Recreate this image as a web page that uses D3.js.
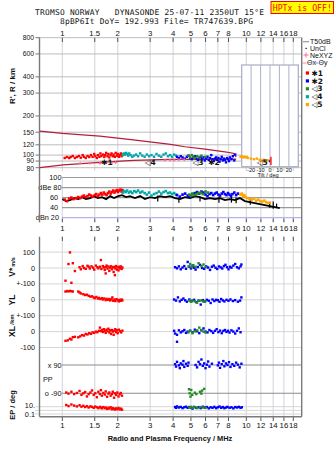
<!DOCTYPE html>
<html><head><meta charset="utf-8">
<script src="https://cdn.jsdelivr.net/npm/d3@7"></script>
<style>
body{margin:0;background:#fff}
svg{display:block}
text{font-family:"Liberation Sans",Arial,sans-serif;fill:#111}
</style>
</head><body>
<svg id="c" width="335" height="451"></svg>
<script>
// ---- frequency axis ----
const freqTicks = [1,1.5,2,3,4,5,6,7,8,10,12,14,16,18];
const freqTicksMid = [1,1.5,2,3,4,5,6,7,8,9,10,12,14,16,18];
// ---- virtual height axis (km) ----
const heightTicks = [80,90,100,120,150,200,300,400,600,800];
// ---- amplitude axis (dB) ----
const ampTicks = [100,80,60,40,20];
const ampLabels = ["100","dBe 80","60","40","dBn 20"];
const tiltTicks = [-20,-10,0,10,20];

// model profile curves (f MHz, km)
const upperCurve = [[0.756,153],[1.0,147],[1.6,140],[2.43,131],[3.87,121],[4.64,116],[5.96,111],[7.65,106],[8.5,103.3],[8.8,97]];
const lowerCurve = [[0.752,80],[1.013,84],[1.6,88],[2.43,91],[3.87,92.6],[8.8,93]];

// echo group 1 (red)
const redH = [[1.03,95],[1.06,96.7],[1.09,95],[1.11,96.7],[1.14,98.4],[1.17,95],[1.20,96.7],[1.23,98.4],[1.26,95.5],[1.29,100],[1.31,97],[1.34,95],[1.37,98.4],[1.40,96.7],[1.43,100],[1.46,97],[1.49,102],[1.51,98],[1.54,95],[1.56,100],[1.59,97],[1.61,103],[1.63,98.4],[1.66,101],[1.69,96.7],[1.71,100],[1.73,104],[1.76,98],[1.78,102],[1.80,96],[1.83,100],[1.85,103],[1.88,98],[1.90,101],[1.93,97],[1.95,104],[1.98,99],[2.00,102],[2.03,97],[2.05,100],[2.08,103],[2.10,98],[2.12,101]];
const redA = [[1.03,56],[1.06,53],[1.09,58],[1.12,60],[1.15,57],[1.19,59],[1.22,61],[1.25,59],[1.28,62],[1.31,64],[1.34,61],[1.37,63],[1.40,66],[1.43,64],[1.46,62],[1.50,65],[1.53,67],[1.56,63],[1.59,66],[1.62,69],[1.65,66],[1.68,70],[1.71,67],[1.74,65],[1.77,69],[1.80,72],[1.83,68],[1.86,71],[1.89,74],[1.92,70],[1.95,73],[1.98,75],[2.01,71],[2.04,74],[2.07,76],[2.10,72],[2.12,75]];
const redV = [[1.10,98],[1.08,25],[1.14,30],[1.17,-19],[1.04,-80],[1.12,-93],[1.24,5],[1.26,-8],[1.29,12],[1.31,0],[1.34,-5],[1.37,14],[1.39,8],[1.41,-3],[1.44,10],[1.47,2],[1.49,-10],[1.52,15],[1.55,5],[1.57,-2],[1.60,8],[1.62,50],[1.63,-6],[1.66,12],[1.68,3],[1.70,-12],[1.72,6],[1.74,15],[1.76,-4],[1.78,9],[1.80,-18],[1.82,2],[1.84,11],[1.86,-8],[1.88,5],[1.90,-25],[1.92,7],[1.94,-3],[1.96,12],[1.98,-10],[2.00,4],[2.02,-15],[2.04,8],[2.06,-2],[2.08,10],[2.10,-6],[2.12,3],[1.72,-34],[1.93,-45]];
const redYL = [[1.04,52],[1.06,55],[1.08,53],[1.10,56],[1.12,54],[1.14,52],[1.22,52],[1.24,46],[1.26,40],[1.30,35],[1.33,30],[1.36,32],[1.39,25],[1.42,20],[1.45,22],[1.48,15],[1.50,10],[1.53,18],[1.56,8],[1.58,12],[1.61,5],[1.64,10],[1.66,2],[1.69,8],[1.72,-2],[1.74,6],[1.77,0],[1.80,5],[1.82,-4],[1.85,3],[1.87,15],[1.89,-6],[1.92,2],[1.94,-8],[1.97,4],[2.00,-3],[2.03,-10],[2.05,0],[2.08,-6],[2.10,2],[2.12,-4]];
const redXL = [[1.04,-58],[1.07,-55],[1.10,-45],[1.12,-50],[1.14,-35],[1.17,-33],[1.22,-36],[1.25,-30],[1.28,-22],[1.31,-25],[1.34,-15],[1.37,-18],[1.40,-10],[1.43,-14],[1.46,-5],[1.49,-8],[1.52,0],[1.55,-4],[1.58,5],[1.60,25],[1.62,3],[1.64,10],[1.66,-2],[1.68,15],[1.70,5],[1.72,-8],[1.74,12],[1.76,2],[1.78,18],[1.80,-5],[1.82,8],[1.84,-15],[1.86,10],[1.88,0],[1.90,-20],[1.92,6],[1.94,15],[1.96,-3],[1.98,8],[2.00,-10],[2.03,12],[2.06,2],[2.09,-5],[2.12,6]];
const redPP = [[1.05,-85],[1.08,-92],[1.12,-80],[1.16,-95],[1.20,-88],[1.24,-75],[1.27,-100],[1.30,-90],[1.33,-82],[1.36,-110],[1.39,-95],[1.42,-85],[1.45,-72],[1.48,-100],[1.51,-90],[1.54,-115],[1.57,-80],[1.60,-95],[1.62,-70],[1.64,-105],[1.67,-88],[1.70,-98],[1.72,-78],[1.75,-112],[1.78,-92],[1.80,-85],[1.83,-105],[1.86,-95],[1.88,-80],[1.91,-118],[1.93,-90],[1.96,-100],[1.99,-85],[2.02,-110],[2.05,-95],[2.08,-88],[2.11,-105]];
const redEP = [[1.05,30],[1.08,15],[1.12,40],[1.16,20],[1.20,12],[1.24,25],[1.27,10],[1.30,18],[1.33,8],[1.36,14],[1.39,6],[1.42,12],[1.45,9],[1.48,5],[1.51,11],[1.54,7],[1.57,4],[1.60,9],[1.62,6],[1.64,3.5],[1.67,8],[1.70,4],[1.72,6],[1.75,2.5],[1.78,5],[1.80,3],[1.83,7],[1.86,2],[1.88,4],[1.91,2.8],[1.93,1.6],[1.96,3.5],[1.99,2],[2.02,4.5],[2.05,1.8],[2.08,3],[2.11,1.5]];

// echo group 2 (blue)
const blueH = [[4.20,97],[4.30,95],[4.40,98],[4.50,96],[4.62,94],[4.75,97],[4.85,99],[4.95,95],[5.05,93],[5.15,96],[5.25,98],[5.35,94],[5.45,92],[5.55,95],[5.65,97],[5.75,93],[5.85,96],[5.95,91],[6.05,94],[6.15,97],[6.25,92],[6.35,95],[6.45,100],[6.55,93],[6.65,90],[6.75,94],[6.85,96],[6.95,92],[7.05,95],[7.15,89],[7.25,93],[7.35,97],[7.45,91],[7.55,94],[7.65,92],[7.75,88],[7.85,95],[7.95,93],[8.05,90],[8.15,96],[8.30,93],[8.45,98],[8.60,91],[8.70,101]];
const blueA = [[4.2,65],[4.35,62],[4.5,66],[4.65,68],[4.8,64],[4.95,62],[5.1,67],[5.25,69],[5.4,71],[5.55,68],[5.7,72],[5.85,70],[6.0,66],[6.15,63],[6.3,67],[6.45,69],[6.6,65],[6.75,68],[6.9,70],[7.05,66],[7.2,64],[7.35,68],[7.5,71],[7.65,67],[7.8,65],[7.95,69],[8.1,66],[8.25,63],[8.4,67],[8.6,70],[8.8,65],[9.0,68]];
const blueV = [[4.1,5],[4.2,-2],[4.3,10],[4.4,-8],[4.5,3],[4.6,12],[4.7,-5],[4.8,38],[4.9,8],[5.0,-3],[5.1,15],[5.2,2],[5.3,-10],[5.45,6],[5.6,20],[5.75,0],[5.9,-5],[6.05,10],[6.2,3],[6.35,-12],[6.5,8],[6.65,15],[6.8,2],[6.95,-6],[7.1,10],[7.25,4],[7.4,-3],[7.55,12],[7.7,20],[7.85,5],[8.0,-8],[8.15,8],[8.3,2],[8.5,15],[8.7,25],[8.9,5],[9.1,-2],[9.3,10],[9.4,22]];
const blueYL = [[4.05,2],[4.15,-5],[4.25,15],[4.35,-10],[4.45,0],[4.55,8],[4.65,-3],[4.75,-12],[4.9,2],[5.05,-8],[5.2,0],[5.35,-15],[5.5,-5],[5.65,-30],[5.8,-2],[5.95,-10],[6.1,0],[6.25,-6],[6.4,-20],[6.55,2],[6.7,-8],[6.85,0],[7.0,-3],[7.15,-12],[7.3,5],[7.45,-4],[7.6,-10],[7.8,0],[8.0,-6],[8.2,2],[8.45,-8],[8.7,-2],[9.0,-12],[9.25,-5],[9.4,15]];
const blueXL = [[4.05,5],[4.1,-12],[4.2,-20],[4.3,8],[4.4,-5],[4.5,2],[4.6,10],[4.7,-8],[4.8,0],[4.95,6],[5.1,-5],[5.25,12],[5.4,2],[5.55,-10],[5.7,8],[5.85,20],[6.0,0],[6.15,-5],[6.3,10],[6.45,3],[6.6,-8],[6.75,5],[6.9,15],[7.05,-3],[7.2,6],[7.35,-10],[7.5,4],[7.65,10],[7.8,-2],[7.95,5],[8.1,-6],[8.3,8],[8.5,0],[8.7,-12],[8.9,5],[9.1,20],[9.3,-4],[4.2,-64]];
const bluePP = [[4.1,95],[4.15,80],[4.2,110],[4.3,88],[4.35,70],[4.4,100],[4.5,92],[4.55,115],[4.6,78],[4.7,98],[4.8,85],[4.85,105],[5.3,90],[5.4,75],[5.5,110],[5.6,95],[5.7,125],[5.8,85],[5.9,100],[6.0,70],[6.1,92],[6.2,112],[6.3,80],[6.5,98],[7.0,88],[7.1,105],[7.2,72],[7.35,95],[7.5,115],[7.6,82],[7.75,100],[7.9,90],[8.05,108],[8.2,78],[8.4,95],[8.6,85],[8.8,105],[9.0,92],[9.2,75],[9.4,98]];
const blueEP = [[4.1,8],[4.15,5],[4.2,12],[4.3,6],[4.4,9],[4.5,4],[4.6,7],[4.7,10],[4.8,5],[4.9,8],[5.0,6],[5.1,3],[5.2,9],[5.35,5],[5.5,7],[5.65,4],[5.8,10],[5.95,6],[6.1,8],[6.25,3.5],[6.4,7],[6.55,5],[6.7,9],[6.85,4],[7.0,7],[7.15,11],[7.3,5],[7.45,8],[7.6,4],[7.75,6],[7.9,9],[8.1,5],[8.3,7],[8.5,3.5],[8.7,8],[8.9,6],[9.1,9],[9.3,5],[9.45,7]];

// echo group 3 (green)
const greenH = [[4.85,99],[4.95,96],[5.05,100],[5.15,97],[5.25,95],[5.40,98],[5.55,96],[5.70,99],[6.0,97]];
const greenA = [[4.9,66],[5.0,64],[5.1,68],[5.2,65],[5.35,67],[5.5,69],[5.65,70],[5.8,67],[6.0,72],[6.2,70]];
const greenV = [[4.85,10],[4.95,25],[5.05,5],[5.15,18],[5.3,8],[5.5,30],[5.7,12],[5.85,22],[6.0,5]];
const greenYL = [[4.9,-5],[5.0,-12],[5.1,-3],[5.25,-10],[5.4,-18],[5.55,-6],[5.7,-4],[5.85,-12],[6.0,-8]];
const greenXL = [[4.85,-5],[4.95,5],[5.1,-10],[5.25,2],[5.4,8],[5.55,25],[5.7,10],[5.85,0],[6.0,-6]];
const greenPP = [[4.88,-64],[4.92,-90],[4.97,-111],[5.02,-69],[5.08,-100],[5.25,-86],[5.35,-95],[5.6,-80],[5.75,-73],[5.7,-92],[5.9,-62]];
const greenEP = [[4.9,6],[5.0,9],[5.1,5],[5.2,7],[5.4,4],[5.6,8],[5.8,6],[6.0,5]];

// echo group 4 (cyan)
const cyanH = [[2.13,100],[2.16,103],[2.19,101],[2.22,104],[2.25,102],[2.28,99],[2.31,103],[2.35,100],[2.40,97],[2.45,99],[2.52,101],[2.58,98],[2.65,103],[2.72,99],[2.80,97],[2.88,101],[2.96,98],[3.05,100],[3.15,97],[3.25,102],[3.35,99],[3.45,97],[3.55,101],[3.65,103],[3.75,98],[3.85,100],[3.95,97],[4.05,101],[4.15,99]];
const cyanA = [[2.13,70],[2.17,73],[2.21,71],[2.25,74],[2.30,70],[2.35,72],[2.40,69],[2.46,73],[2.52,71],[2.58,74],[2.65,70],[2.72,72],[2.80,69],[2.88,66],[2.96,70],[3.05,64],[3.15,67],[3.25,69],[3.35,72],[3.45,68],[3.55,71],[3.65,73],[3.75,69],[3.85,70],[3.95,67],[4.05,69],[4.15,66]];

// echo group 5 (orange)
const orangeH = [[9.3,97],[9.45,98],[9.6,96],[9.75,97.5],[9.9,96],[10.05,97],[10.2,95],[10.6,94],[11.0,93],[11.4,94],[11.8,92],[12.1,91],[12.4,92],[12.7,90],[13.0,91],[13.3,90.5]];
const orangeA = [[9.3,66],[9.45,68],[9.6,63],[9.75,65],[9.9,61],[10.1,59],[10.4,57],[10.7,56],[11.0,58],[11.3,54],[11.6,56],[11.9,53],[12.2,52],[12.5,54],[12.8,51],[13.1,49],[13.4,50]];

// unclassified amplitude trace
const blackA = [[1.0,57],[1.047,53],[1.10,55],[1.16,59],[1.22,57],[1.28,61],[1.345,57],[1.415,59],[1.49,63],[1.56,59],[1.64,61],[1.73,57],[1.82,63],[1.91,59],[2.01,63],[2.11,65],[2.22,61],[2.33,63],[2.48,59],[2.65,63],[2.81,57],[3.0,61],[3.19,59],[3.39,63],[3.62,61],[3.85,63],[4.10,59],[4.36,57],[4.64,61],[4.94,59],[5.26,63],[5.60,61],[5.96,57],[6.34,59],[6.75,57],[7.19,59],[7.65,55],[8.14,57],[8.66,55],[9.22,59],[9.82,53],[10.45,51],[11.12,49],[11.84,47],[12.6,45],[13.4,43],[14.3,41],[15.2,39]];
const blackSpikes = [[3.3,52,64],[4.3,50,60],[5.6,52,62],[7.1,50,62],[8.3,50,63],[8.8,49,60],[10.5,46,58],[13.4,40,50],[14.0,38,52],[14.6,40,48]];

// NeXYZ markers (f MHz, km)
const neXYZ = [[1.25,86.5],[1.41,86.5],[1.60,86.5],[1.86,87.5],[1.95,87.5],[3.62,91.5],[3.85,91.5],[4.05,91.5],[4.3,92],[4.6,92]];
// group tags
const groupTags = [{t:"\u27311",f:1.75,h:88.4},{t:"\u25C14",f:3.0,h:88.4},{t:"\u25C13",f:5.46,h:88.4},{t:"\u27312",f:6.68,h:88.4},{t:"\u25C15",f:12.2,h:88}];
// tilt of group 5 (deg, km range)
const tiltX = [{t:1,h0:84,h1:97}];
const tiltY = [{t:-0.5,h0:88,h1:92}];

const legendItems = [{c:"#ff0000",t:"\u27311"},{c:"#0000ff",t:"\u27312"},{c:"#228b22",t:"\u25C13"},{c:"#00a8a8",t:"\u25C14"},{c:"#ffa500",t:"\u25C15"}];

// ---------------------------------------------------------------
const svg = d3.select("#c");
const L = 40, R = 302;
const x = d3.scaleLog().domain([0.756, 20.07]).range([L, R]);
const yH = d3.scaleLog().domain([80, 800]).range([167.7, 37.7]);
const yA = d3.scaleLinear().domain([20, 100]).range([217.7, 177.5]);
const yV = d3.scaleLinear().domain([-100, 100]).range([283.9, 252.1]);
const yYL = d3.scaleLinear().domain([-100, 100]).range([315.7, 283.9]);
const yXL = d3.scaleLinear().domain([-100, 100]).range([347.5, 315.7]);
const yPP = d3.scaleLinear().domain([-90, 90]).range([393.3, 365]);
const yEP = d3.scaleLog().domain([0.1, 10]).range([414, 406.7]);
const xT = d3.scaleLinear().domain([-30, 30]).range([241.7, 298.3]);

// title block
svg.append("text").attr("x", 35).attr("y", 15).style("font-family", "DejaVu Sans Mono").style("font-size", "7.9px")
  .attr("xml:space", "preserve").attr("textLength", 229).text("TROMSO NORWAY   DYNASONDE 25-07-11 2350UT 15\u00B0E");
svg.append("text").attr("x", 60).attr("y", 24.2).style("font-family", "DejaVu Sans Mono").style("font-size", "7.9px")
  .attr("textLength", 193).text("8pBP6It DoY= 192.993 File= TR747639.BPG");
svg.append("rect").attr("x", 271).attr("y", 1.5).attr("width", 62.5).attr("height", 12).attr("fill", "#ffff00").attr("stroke", "#ff0000");
svg.append("text").attr("x", 302.3).attr("y", 11).attr("text-anchor", "middle").style("font-family", "DejaVu Sans Mono")
  .style("font-size", "8.2px").style("fill", "#ff0000").text("HPTx is OFF!");

const grid = svg.append("g");
function vgrid(y0, y1) {
  grid.append("g").selectAll("line").data(freqTicks).join("line")
    .attr("x1", d => x(d)).attr("x2", d => x(d)).attr("y1", y0).attr("y2", y1)
    .attr("stroke", "#dcdce6").attr("stroke-width", 1.3);
}
function hgrid(vals, ys, x0, color, w) {
  grid.append("g").selectAll("line").data(vals).join("line")
    .attr("x1", x0).attr("x2", R).attr("y1", d => ys(d)).attr("y2", d => ys(d))
    .attr("stroke", color).attr("stroke-width", w || 1);
}

// ---- top panel ----
vgrid(37.7, 171);
hgrid(heightTicks, yH, L, "#bdbdbd");
grid.append("g").selectAll("line").data(heightTicks).join("line")
  .attr("x1", 35.5).attr("x2", L).attr("y1", d => yH(d)).attr("y2", d => yH(d)).attr("stroke", "#777");
const hNudge = {100: -0.6, 80: 0.6};
svg.append("g").selectAll("text").data(heightTicks).join("text")
  .attr("x", 34).attr("y", d => yH(d) + (hNudge[d] || 0)).attr("dy", "0.35em").attr("text-anchor", "end").style("font-size", "6.8px")
  .text(d => d);
svg.append("text").attr("transform", "translate(15,86) rotate(-90)").attr("text-anchor", "middle")
  .style("font-size", "8px").style("font-weight", "bold").text("R', R / km");

// top frequency labels
svg.append("g").selectAll("text").data(freqTicks).join("text")
  .attr("x", d => x(d)).attr("y", 36).attr("text-anchor", "middle").style("font-size", "7.8px").text(d => d);
svg.append("g").selectAll("line").data(freqTicks).join("line")
  .attr("x1", d => x(d)).attr("x2", d => x(d)).attr("y1", 37.7).attr("y2", 42).attr("stroke", "#555");

// ---- amplitude panel ----
vgrid(177.5, 222);
hgrid(ampTicks.slice(0, 4), yA, 62, "#9a9a9a", 1.2);
hgrid([20], yA, 62, "#b4b4ec", 1.2);
svg.append("g").selectAll("text").data(ampTicks).join("text")
  .attr("x", (d, i) => (i === 0 || i === 1) ? 61.5 : (i === 4 ? 59 : 58)).attr("y", d => yA(d)).attr("dy", "0.35em")
  .attr("text-anchor", "end").style("font-size", "7.3px").text((d, i) => ampLabels[i]);
svg.append("g").selectAll("line").data(freqTicks).join("line")
  .attr("x1", d => x(d)).attr("x2", d => x(d)).attr("y1", 218.5).attr("y2", 222.3).attr("stroke", "#555");
svg.append("g").selectAll("text").data(freqTicksMid).join("text")
  .attr("x", d => x(d)).attr("y", 230.5).attr("text-anchor", "middle").style("font-size", "7.8px").text(d => d);

// ---- lower panel ----
vgrid(236.7, 416.7);
hgrid([100, 0, -100], yV, L, "#d6d6d6");
hgrid([0, -100], yYL, L, "#d6d6d6");
hgrid([0, -100], yXL, L, "#d6d6d6");
hgrid([90, -90], yPP, 62, "#8c8c8c", 1.1);
grid.append("g").selectAll("line").data([10, 1, 0.1]).join("line")
  .attr("x1", 35).attr("x2", R).attr("y1", d => yEP(d)).attr("y2", d => yEP(d)).attr("stroke", "#d6d6d6");
svg.append("g").selectAll("line").data(freqTicks).join("line")
  .attr("x1", d => x(d)).attr("x2", d => x(d)).attr("y1", 236.7).attr("y2", 241).attr("stroke", "#555");
svg.append("g").selectAll("line").data(freqTicks).join("line")
  .attr("x1", d => x(d)).attr("x2", d => x(d)).attr("y1", 416.7).attr("y2", 421).attr("stroke", "#555");
svg.append("g").selectAll("text").data(freqTicks).join("text")
  .attr("x", d => x(d)).attr("y", 428).attr("text-anchor", "middle").style("font-size", "7.8px").text(d => d);

const lowLabels = [
  {t:"100", y:yV(100)}, {t:"0", y:yV(0)}, {t:"+-100", y:yV(-100)},
  {t:"0", y:yYL(0)}, {t:"+-100", y:yYL(-100)},
  {t:"0", y:yXL(0)}, {t:"-100", y:yXL(-100)},
  {t:"10.", y:yEP(10)-0.8}, {t:"0.1", y:yEP(0.1)+0.6}
];
svg.append("g").selectAll("text").data(lowLabels).join("text")
  .attr("x", 35).attr("y", d => d.y).attr("dy", "0.35em").attr("text-anchor", "end").style("font-size", "7.3px").text(d => d.t);
svg.append("text").attr("x", 61.5).attr("y", yPP(90)).attr("dy", "0.35em").attr("text-anchor", "end").style("font-size", "7.3px").text("x 90");
svg.append("text").attr("x", 61.5).attr("y", yPP(-90)).attr("dy", "0.35em").attr("text-anchor", "end").style("font-size", "7.3px").text("o -90");
svg.append("text").attr("x", 43).attr("y", yPP(0)).attr("dy", "0.35em").style("font-size", "7.3px").text("PP");

const vLab = svg.append("text").attr("transform", "translate(15,267) rotate(-90)").attr("text-anchor", "middle");
vLab.append("tspan").style("font-size", "8.5px").style("font-weight", "bold").text("V*");
vLab.append("tspan").attr("dx", 1).style("font-size", "5.5px").style("font-weight", "bold").text("m/s");
svg.append("text").attr("transform", "translate(15,300) rotate(-90)").attr("text-anchor", "middle").style("font-size", "8.5px").style("font-weight", "bold").text("YL");
svg.append("text").attr("transform", "translate(14,319.5) rotate(-90)").attr("text-anchor", "middle").style("font-size", "6px").style("font-weight", "bold").text("/km");
svg.append("text").attr("transform", "translate(15,331.5) rotate(-90)").attr("text-anchor", "middle").style("font-size", "8.5px").style("font-weight", "bold").text("XL");
svg.append("text").attr("transform", "translate(15,405) rotate(-90)").attr("text-anchor", "middle").style("font-size", "7.5px").style("font-weight", "bold").text("EP / deg");
svg.append("text").attr("x", 170).attr("y", 441).attr("text-anchor", "middle").style("font-size", "7.4px").style("font-weight", "bold").text("Radio and Plasma Frequency / MHz");

// borders
const frame = svg.append("g").attr("stroke", "#7a7a7a").attr("stroke-width", 1.4);
frame.append("line").attr("x1", 39.5).attr("x2", 39.5).attr("y1", 37.7).attr("y2", 222.3);
frame.append("line").attr("x1", 39.5).attr("x2", 39.5).attr("y1", 236.7).attr("y2", 416.7);
frame.append("line").attr("x1", 301.7).attr("x2", 301.7).attr("y1", 37.7).attr("y2", 416.7);
frame.append("line").attr("x1", 39.5).attr("x2", 301.7).attr("y1", 416.7).attr("y2", 416.7);

// ---- tilt inset ----
const inset = svg.append("g");
inset.append("rect").attr("x", xT(-30)).attr("y", 65).attr("width", xT(30) - xT(-30)).attr("height", 101.7)
  .attr("fill", "#fff").attr("stroke", "#a8acc4").attr("stroke-width", 1.2);
inset.selectAll("line.t").data(tiltTicks).join("line").attr("class", "t")
  .attr("x1", d => xT(d)).attr("x2", d => xT(d)).attr("y1", 65).attr("y2", 166.7).attr("stroke", "#b4b8cc").attr("stroke-width", 1.1);
inset.selectAll("text").data(tiltTicks).join("text")
  .attr("x", d => xT(d)).attr("y", 171.5).attr("text-anchor", "middle").style("font-size", "5.6px").text(d => d);
inset.append("text").attr("x", 268).attr("y", 176.5).attr("text-anchor", "middle").style("font-size", "5.6px").text("Tilt / deg");

// ---- model curves ----
const line = d3.line().x(d => x(d[0])).y(d => yH(d[1]));
svg.append("path").datum(upperCurve).attr("d", line).attr("fill", "none").attr("stroke", "#b21e3c").attr("stroke-width", 1.2);
svg.append("path").datum(lowerCurve).attr("d", line).attr("fill", "none").attr("stroke", "#b21e3c").attr("stroke-width", 1.2);

// ---- point helper ----
function dots(data, ys, color, s) {
  s = s || 2.4;
  svg.append("g").selectAll("rect").data(data).join("rect")
    .attr("x", d => x(d[0]) - s / 2).attr("y", d => ys(d[1]) - s / 2).attr("width", s).attr("height", s).attr("fill", color);
}
const RED = "#ff0000", BLUE = "#0000ff", GREEN = "#228b22", CYAN = "#00a8a8", ORANGE = "#ffa500";

// heights
dots(redH, yH, RED); dots(cyanH, yH, CYAN); dots(blueH, yH, BLUE); dots(greenH, yH, GREEN); dots(orangeH, yH, ORANGE);
// NeXYZ
svg.append("g").selectAll("path").data(neXYZ).join("path")
  .attr("d", d => `M${x(d[0]) - 1.5},${yH(d[1])}h3M${x(d[0])},${yH(d[1]) - 1.5}v3`).attr("stroke", "#ff6b9a").attr("stroke-width", 1);
// tilt markers
svg.append("g").selectAll("line").data(tiltX).join("line")
  .attr("x1", d => xT(d.t)).attr("x2", d => xT(d.t)).attr("y1", d => yH(d.h0)).attr("y2", d => yH(d.h1)).attr("stroke", "#ff0000").attr("stroke-width", 1.3);
svg.append("g").selectAll("line").data(tiltY).join("line")
  .attr("x1", d => xT(d.t)).attr("x2", d => xT(d.t)).attr("y1", d => yH(d.h0)).attr("y2", d => yH(d.h1)).attr("stroke", "#2020ff").attr("stroke-width", 1.1);
// group tags
svg.append("g").selectAll("text").data(groupTags).join("text")
  .attr("x", d => x(d.f)).attr("y", d => yH(d.h)).attr("dy", "0.35em").attr("text-anchor", "middle")
  .style("font-family", "DejaVu Sans").style("font-size", "7.5px").style("font-weight", "bold").text(d => d.t);

// amplitudes
svg.append("path").datum(blackA).attr("d", d3.line().x(d => x(d[0])).y(d => yA(d[1])))
  .attr("fill", "none").attr("stroke", "#000").attr("stroke-width", 1.8);
svg.append("g").selectAll("line").data(blackSpikes).join("line")
  .attr("x1", d => x(d[0])).attr("x2", d => x(d[0])).attr("y1", d => yA(d[1])).attr("y2", d => yA(d[2])).attr("stroke", "#000").attr("stroke-width", 1.2);
dots(redA, yA, RED, 2.6); dots(cyanA, yA, CYAN, 2.6); dots(blueA, yA, BLUE, 2.6); dots(greenA, yA, GREEN, 2.6); dots(orangeA, yA, ORANGE, 2.6);

// doppler / location / polarization
dots(redV, yV, RED); dots(blueV, yV, BLUE); dots(greenV, yV, GREEN);
dots(redYL, yYL, RED); dots(blueYL, yYL, BLUE); dots(greenYL, yYL, GREEN);
dots(redXL, yXL, RED); dots(blueXL, yXL, BLUE); dots(greenXL, yXL, GREEN);
dots(redPP, yPP, RED); dots(bluePP, yPP, BLUE); dots(greenPP, yPP, GREEN);
dots(redEP, yEP, RED); dots(blueEP, yEP, BLUE); dots(greenEP, yEP, GREEN);

// ---- legend ----
const lg = svg.append("g");
lg.append("line").attr("x1", 303).attr("x2", 309).attr("y1", 41.7).attr("y2", 41.7).attr("stroke", "#999").attr("stroke-width", 1.2);
lg.append("text").attr("x", 310).attr("y", 41.7).attr("dy", "0.35em").style("font-size", "7px").text("T50dB");
lg.append("rect").attr("x", 305.5).attr("y", 47.8).attr("width", 1.2).attr("height", 1.2).attr("fill", "#000");
lg.append("text").attr("x", 310).attr("y", 48.5).attr("dy", "0.35em").style("font-size", "7px").text("UnCl");
lg.append("path").attr("d", "M303.5,55h5M306,52.5v5").attr("stroke", "#ff6b9a").attr("stroke-width", 1);
lg.append("text").attr("x", 310).attr("y", 55.2).attr("dy", "0.35em").style("font-size", "7px").text("NeXYZ");
lg.append("line").attr("x1", 302.5).attr("x2", 306.5).attr("y1", 63).attr("y2", 63).attr("stroke", "#ff7f9a");
lg.append("text").attr("x", 307).attr("y", 63).attr("dy", "0.35em").style("font-size", "7px").text("\u0398x");
lg.append("line").attr("x1", 314).attr("x2", 318).attr("y1", 63).attr("y2", 63).attr("stroke", "#8080ff");
lg.append("text").attr("x", 318.5).attr("y", 63).attr("dy", "0.35em").style("font-size", "7px").text("\u0398y");
legendItems.forEach((d, i) => {
  const yy = 73 + i * 7.9;
  lg.append("rect").attr("x", 305.8).attr("y", yy - 1.6).attr("width", 3.2).attr("height", 3.2).attr("fill", d.c);
  lg.append("text").attr("x", 311.5).attr("y", yy).attr("dy", "0.35em").style("font-family", "DejaVu Sans")
    .style("font-size", "7.5px").style("font-weight", "bold").text(d.t);
});
</script>
</body></html>
